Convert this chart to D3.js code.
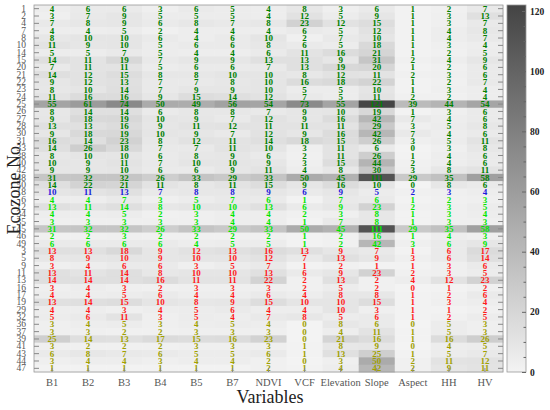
<!DOCTYPE html>
<html><head><meta charset="utf-8">
<script src="https://cdn.jsdelivr.net/npm/d3@7"></script>
<style>body{margin:0;background:#fff}svg{display:block}</style>
</head><body><svg id="c" width="550" height="410"></svg>
<script>
const ecozones = [1,2,4,7,8,10,14,15,20,21,22,23,24,25,26,27,28,30,31,33,38,40,42,48,50,18,6,12,34,35,45,46,49,3,5,9,11,13,16,17,19,29,32,36,37,39,41,43,44,47];
const variables = ["B1","B2","B3","B4","B5","B7","NDVI","VCF","Elevation","Slope","Aspect","HH","HV"];
const B1 = [4,3,7,4,8,11,5,14,7,14,9,8,11,55,8,9,13,9,16,14,8,10,9,31,14,10,4,13,4,3,31,2,6,13,8,3,13,14,3,4,13,4,5,3,3,25,3,6,3,1];
const B2 = [6,7,8,4,10,9,5,11,11,12,12,10,16,61,14,18,13,18,14,26,10,9,9,32,22,11,4,11,4,3,32,2,6,13,9,4,11,14,4,4,14,4,6,4,3,14,2,8,4,1];
const B3 = [6,9,9,5,10,10,7,19,11,15,13,14,16,74,14,19,16,19,23,18,10,11,10,32,21,13,7,14,5,3,32,3,6,18,10,6,14,14,3,5,15,3,11,5,2,13,2,7,4,1];
const B4 = [3,5,6,2,6,5,5,7,5,8,7,7,9,50,6,10,9,10,8,7,6,7,6,26,11,7,3,8,2,3,26,2,6,9,9,6,8,16,2,6,10,4,3,3,2,17,2,6,3,1];
const B5 = [6,5,8,4,4,6,4,9,6,8,7,9,15,49,8,9,11,9,12,7,8,10,6,33,8,8,5,10,3,3,33,2,4,12,10,3,10,11,3,4,8,5,5,4,3,15,3,5,4,1];
const B7 = [5,5,7,4,6,6,4,9,6,10,8,9,14,56,8,7,12,7,11,11,9,10,9,29,11,8,7,10,4,4,29,2,5,13,10,5,10,11,3,4,9,6,4,5,3,16,3,5,4,1];
const NDVI = [4,4,8,4,10,8,6,13,7,10,10,10,12,54,7,12,11,12,14,10,6,9,11,33,15,9,6,13,4,4,33,2,5,16,12,7,13,22,3,6,15,4,7,4,3,23,3,6,2,2];
const VCF = [8,12,23,6,2,6,11,13,13,8,16,5,7,73,9,9,11,9,18,3,2,3,4,50,9,6,1,6,2,1,50,1,1,13,7,1,6,2,2,4,10,4,8,0,0,0,1,1,0,1];
const Elevation = [3,5,12,5,7,5,16,9,19,12,18,5,5,55,10,16,11,16,15,11,11,15,8,45,16,9,7,9,3,7,45,2,2,9,13,2,9,13,5,8,10,10,5,8,4,21,8,13,3,4];
const Slope = [6,9,15,12,10,18,21,31,20,11,22,10,11,121,19,42,29,42,26,6,26,44,30,111,10,5,6,23,8,8,111,16,42,7,9,1,23,2,2,8,15,3,6,6,11,16,9,25,50,42];
const Aspect = [1,1,1,1,1,1,1,2,1,2,1,1,2,39,1,7,3,7,3,0,1,2,3,29,0,2,1,2,1,1,29,1,3,1,3,1,2,4,0,1,1,1,1,0,1,1,0,1,2,2];
const HH = [2,3,3,4,4,3,2,4,2,3,2,3,2,44,3,4,5,4,5,3,4,4,8,35,8,3,2,3,3,3,35,4,6,6,6,3,3,12,1,2,3,1,2,5,5,16,4,5,11,9];
const HV = [7,13,7,8,7,4,5,9,6,6,7,4,4,54,6,6,8,6,11,8,6,6,11,58,6,4,3,5,4,3,58,3,9,17,14,6,5,23,2,6,4,2,5,3,3,26,5,7,12,11];
const columns = [B1,B2,B3,B4,B5,B7,NDVI,VCF,Elevation,Slope,Aspect,HH,HV];
const groupSizes = [25,1,7,10,7];
const groupColors = ["#008000","#1a1adc","#00e600","#ff1a1a","#a0a000"];
const colorbarTicks = [0,20,40,60,80,100,120];

const svg = d3.select("#c");
const L=34, R=503, T=5, B=372;
const x = d3.scaleBand().domain(variables).range([L,R]);
const y = d3.scaleBand().domain(d3.range(ecozones.length)).range([T,B]);
const color = d3.scaleLinear().domain([0,121]).range(["#f3f3f3","#454545"]);

const rowColor = [];
groupSizes.forEach((n,g)=>{for(let i=0;i<n;i++) rowColor.push(groupColors[g]);});

const cells = [];
columns.forEach((col,j)=>col.forEach((v,i)=>cells.push({i,j,v})));

svg.append("g").selectAll("rect").data(cells).join("rect")
  .attr("x",d=>x(variables[d.j])).attr("y",d=>y(d.i))
  .attr("width",x.bandwidth()+0.5).attr("height",y.bandwidth()+0.5)
  .attr("fill",d=>color(d.v));

svg.append("g").selectAll("text").data(cells).join("text")
  .attr("x",d=>x(variables[d.j])+x.bandwidth()/2)
  .attr("y",d=>y(d.i)+y.bandwidth()/2+3.1)
  .attr("text-anchor","middle")
  .attr("font-family","Liberation Serif").attr("font-weight","bold").attr("font-size",9)
  .attr("fill",d=>rowColor[d.i]).text(d=>d.v);

svg.append("rect").attr("x",L).attr("y",T).attr("width",R-L).attr("height",B-T)
  .attr("fill","none").attr("stroke","#999").attr("stroke-width",0.8);

// y axis (inside ticks)
const yAx = svg.append("g").attr("transform",`translate(${L},0)`)
  .call(d3.axisLeft(y).tickFormat(i=>ecozones[i]).tickSize(-5).tickPadding(8));
yAx.select(".domain").remove();
yAx.selectAll("line").attr("stroke","#888");
yAx.selectAll("text").attr("font-family","Liberation Serif").attr("font-size",9.5).attr("fill","#555");
const yAxR = svg.append("g").attr("transform",`translate(${R},0)`)
  .call(d3.axisRight(y).tickFormat("").tickSize(-5));
yAxR.select(".domain").remove();
yAxR.selectAll("line").attr("stroke","#888");

// x axis
const xAx = svg.append("g").attr("transform",`translate(0,${B})`)
  .call(d3.axisBottom(x).tickSize(-4).tickPadding(7));
xAx.select(".domain").remove();
xAx.selectAll("line").attr("stroke","#888");
xAx.selectAll("text").attr("font-family","Liberation Serif").attr("font-size",10.5).attr("fill","#555");

svg.append("text").attr("x",270).attr("y",403).attr("text-anchor","middle")
  .attr("font-family","Liberation Serif").attr("font-size",18).attr("fill","#222").text("Variables");
svg.append("text").attr("transform","translate(20,188) rotate(-90)").attr("text-anchor","middle")
  .attr("font-family","Liberation Serif").attr("font-size",18).attr("fill","#222").text("Ecozone No.");

// colorbar
const cbL=507, cbW=19;
const cy = d3.scaleLinear().domain([0,122]).range([B,T]);
const defs = svg.append("defs");
const grad = defs.append("linearGradient").attr("id","g").attr("x1",0).attr("x2",0).attr("y1",1).attr("y2",0);
d3.range(0,1.01,0.1).forEach(t=>grad.append("stop").attr("offset",t).attr("stop-color",color(t*122)));
svg.append("rect").attr("x",cbL).attr("y",T).attr("width",cbW).attr("height",B-T)
  .attr("fill","url(#g)").attr("stroke","#999").attr("stroke-width",0.8);
const cbAx = svg.append("g").attr("transform",`translate(${cbL+cbW},0)`)
  .call(d3.axisRight(cy).tickValues(colorbarTicks).tickSize(-4).tickPadding(4));
cbAx.select(".domain").remove();
cbAx.selectAll("line").attr("stroke","#666");
cbAx.selectAll("text").attr("font-family","Liberation Serif").attr("font-weight","bold").attr("font-size",9.5).attr("fill","#222");
const cbMinor = svg.append("g").attr("transform",`translate(${cbL+cbW},0)`)
  .call(d3.axisRight(cy).tickValues(d3.range(5,120,5).filter(v=>v%20)).tickSize(-2.5).tickFormat(""));
cbMinor.select(".domain").remove();
cbMinor.selectAll("line").attr("stroke","#666");
</script></body></html>
